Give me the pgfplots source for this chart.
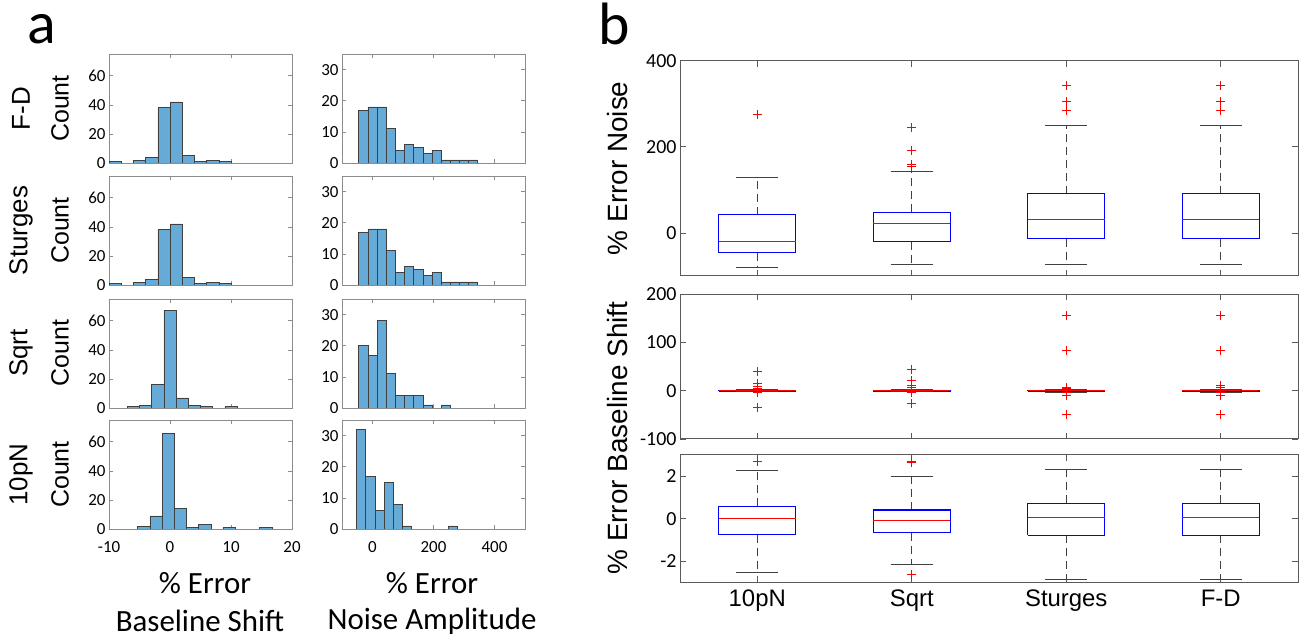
\documentclass[border=0pt]{standalone}
\usepackage{fontspec}
\setmainfont{Carlito}
\newfontfamily\arial{Liberation Sans}
\usepackage{pgfplots}
\pgfplotsset{compat=1.18}
\definecolor{histblue}{HTML}{66AAD7}
\definecolor{framea}{HTML}{8C8C8C}
\definecolor{frameb}{HTML}{5A5A5A}
\definecolor{whiskc}{HTML}{404040}
\definecolor{boxc}{HTML}{0000FF}
\definecolor{medc}{HTML}{FF0000}

\pgfplotsset{
  hist/.style={scale only axis, width=183bp, height=109bp, anchor=north west,
    axis line style={draw=framea, line width=0.8bp},
    tick style={draw=framea, line width=0.6bp}, major tick length=4bp,
    tick align=inside, xtick pos=both, ytick pos=both, ymin=0,
    ticklabel style={font=\fontsize{17}{17}\selectfont},
    xticklabel style={yshift=-9bp}},
  bs/.style={xmin=-10, xmax=20, ymax=75, xtick={-10,0,10,20}, ytick={0,20,40,60}, yticklabels={0,20,40,60}},
  na/.style={xmin=-100, xmax=500, ymax=35, xtick={0,200,400}, ytick={0,10,20,30}, yticklabels={0,10,20,30}},
  nox/.style={xticklabels={}},
  hbar/.style={ybar, fill=histblue, draw=black!75, line width=0.6bp},
  bx/.style={scale only axis, width=618bp, anchor=north west, clip=false,
    xmin=0.5, xmax=4.5, xtick={1,2,3,4}, xticklabels={},
    axis line style={draw=frameb, line width=1bp},
    tick style={draw=frameb, line width=0.8bp}, major tick length=6bp,
    tick align=inside, xtick pos=both, ytick pos=both,
    ticklabel style={font=\fontsize{20}{20}\selectfont}},
  whisk/.style={color=whiskc, draw=whiskc, dash pattern=on 8bp off 5bp, line width=0.9bp},
  boxl/.style={color=boxc, draw=boxc, line width=1.2bp},
  medl/.style={color=medc, draw=medc, line width=1.2bp},
  capl/.style={color=whiskc, draw=whiskc, line width=1bp},
  outl/.style={color=medc, draw=medc, only marks, mark=+, mark size=4.5bp, mark options={color=medc, draw=medc, line width=0.9bp}},
}
% one box: left, centre, right, lower whisker, lower quartile, median, upper quartile, upper whisker
\newcommand{\bxp}[8]{%
  \addplot[whisk] coordinates {(#2,#7)(#2,#8)};
  \addplot[whisk] coordinates {(#2,#5)(#2,#4)};
  \addplot[boxl] coordinates {(#1,#5)(#3,#5)(#3,#7)(#1,#7)(#1,#5)};
  \addplot[medl] coordinates {(#1,#6)(#3,#6)};
}
% whisker cap: left, right, value
\newcommand{\bcap}[3]{\addplot[capl] coordinates {(#1,#3)(#2,#3)};}

\begin{document}
\begin{tikzpicture}
\useasboundingbox (0,0) rectangle (1299bp,641bp);

% ---------- panel a: histograms ----------
% row 1: F-D
\begin{axis}[hist, bs, nox, at={(109bp,587bp)}]
\addplot[hbar, bar width=2] coordinates {(-9,1)(-5,2)(-3,4)(-1,38)(1,42)(3,5)(5,1)(7,2)(9,1)};
\end{axis}
\begin{axis}[hist, na, nox, at={(342bp,587bp)}]
\addplot[hbar, bar width=30] coordinates {(-30,17)(0,18)(30,18)(60,11)(90,4)(120,6)(150,5)(180,3)(210,4)(240,1)(270,1)(300,1)(330,1)};
\end{axis}
% row 2: Sturges
\begin{axis}[hist, bs, nox, at={(109bp,465bp)}]
\addplot[hbar, bar width=2] coordinates {(-9,1)(-5,2)(-3,4)(-1,38)(1,42)(3,5)(5,1)(7,2)(9,1)};
\end{axis}
\begin{axis}[hist, na, nox, at={(342bp,465bp)}]
\addplot[hbar, bar width=30] coordinates {(-30,17)(0,18)(30,18)(60,11)(90,4)(120,6)(150,5)(180,3)(210,4)(240,1)(270,1)(300,1)(330,1)};
\end{axis}
% row 3: Sqrt
\begin{axis}[hist, bs, nox, at={(109bp,342bp)}]
\addplot[hbar, bar width=2] coordinates {(-6,1)(-4,2)(-2,16)(0,67)(2,7)(4,2)(6,1)(10,1)};
\end{axis}
\begin{axis}[hist, na, nox, at={(342bp,342bp)}]
\addplot[hbar, bar width=30] coordinates {(-30,20)(0,17)(30,28)(60,11)(90,4)(120,4)(150,4)(180,1)(240,1)};
\end{axis}
% row 4: 10pN
\begin{axis}[hist, bs, at={(109bp,221bp)}, xticklabels={-10,0,10,20}]
\addplot[hbar, bar width=2] coordinates {(-4.3,2)(-2.3,9)(-0.3,66)(1.7,14)(3.7,1)(5.7,3)(9.7,1)(15.7,1)};
\end{axis}
\begin{axis}[hist, na, at={(342bp,221bp)}, xticklabels={0,200,400}]
\addplot[hbar, bar width=30] coordinates {(-37,32)(-7,17)(23,6)(53,15)(83,8)(113,1)(263,1)};
\end{axis}

% panel a labels
\node[anchor=base, font=\fontsize{60}{60}\selectfont] at (42bp,597bp) {a};
\foreach \yy/\nm in {532.5/F-D, 410.5/Sturges, 288/Sqrt, 166.5/10pN}{
  \node[rotate=90, font=\arial\fontsize{26}{26}\selectfont] at (21bp,\yy bp) {\nm};
  \node[rotate=90, font=\arial\fontsize{25}{25}\selectfont] at (60bp,\yy bp) {Count};
}
\node[font=\fontsize{31}{31}\selectfont] at (205bp,58bp) {\% Error};
\node[font=\fontsize{31}{31}\selectfont] at (200bp,20bp) {Baseline Shift};
\node[font=\fontsize{31}{31}\selectfont] at (432bp,58bp) {\% Error};
\node[font=\fontsize{31}{31}\selectfont] at (432bp,20bp) {Noise Amplitude};

% ---------- panel b: box plots ----------
% noise
\begin{axis}[bx, at={(680bp,580.3bp)}, height=215.3bp, ymin=-100, ymax=400,
  ytick={0,200,400}, yticklabels={0,200,400}]
\bxp{0.75}{1}{1.25}{-80}{-45.7}{-20}{41.9}{128}
\bxp{1.75}{2}{2.25}{-72.9}{-20}{21.7}{48}{142.6}
\bxp{2.75}{3}{3.25}{-72.9}{-13.2}{31.8}{90.7}{248.8}
\bxp{3.75}{4}{4.25}{-72.9}{-13.2}{31.8}{90.7}{248.8}
\bcap{0.865}{1.135}{-80}\bcap{0.865}{1.135}{128}
\bcap{1.865}{2.135}{-72.9}\bcap{1.865}{2.135}{142.6}
\bcap{2.865}{3.135}{-72.9}\bcap{2.865}{3.135}{248.8}
\bcap{3.865}{4.135}{-72.9}\bcap{3.865}{4.135}{248.8}
\addplot[outl] coordinates {(1,276)};
\addplot[outl] coordinates {(2,245)(2,191.5)(2,158)(2,155)};
\addplot[outl] coordinates {(3,343)(3,304.7)(3,284.5)};
\addplot[outl] coordinates {(4,343)(4,304.7)(4,284.5)};
\end{axis}

% baseline shift, full range
\begin{axis}[bx, at={(680bp,346.7bp)}, height=144.7bp, ymin=-100, ymax=200,
  ytick={-100,0,100,200}, yticklabels={-100,0,100,200}]
\bxp{0.75}{1}{1.25}{-2.56}{-0.75}{0}{0.58}{2.26}
\bxp{1.75}{2}{2.25}{-2.18}{-0.67}{-0.09}{0.41}{1.99}
\bxp{2.75}{3}{3.25}{-2.87}{-0.78}{0.05}{0.72}{2.32}
\bxp{3.75}{4}{4.25}{-2.87}{-0.78}{0.05}{0.72}{2.32}
\bcap{0.865}{1.135}{-2.56}\bcap{0.865}{1.135}{2.26}
\bcap{1.865}{2.135}{-2.18}\bcap{1.865}{2.135}{1.99}
\bcap{2.865}{3.135}{-2.87}\bcap{2.865}{3.135}{2.32}
\bcap{3.865}{4.135}{-2.87}\bcap{3.865}{4.135}{2.32}
\addplot[outl] coordinates {(1,39.4)(1,14.5)(1,9.7)(1,4.8)(1,2.68)(1,-3.5)(1,-35)};
\addplot[outl] coordinates {(2,44)(2,21.4)(2,11.7)(2,6.9)(2,2.7)(2,2.66)(2,-2.64)(2,-26)};
\addplot[outl] coordinates {(3,155.5)(3,83.6)(3,6.9)(3,3.8)(3,-3.5)(3,-9)(3,-49)};
\addplot[outl] coordinates {(4,155.5)(4,83.6)(4,11)(4,6.9)(4,-3.5)(4,-9)(4,-49)};
\end{axis}

% baseline shift, zoomed
\begin{axis}[bx, at={(680bp,186bp)}, height=127.3bp, ymin=-3, ymax=3,
  ytick={-2,0,2}, yticklabels={-2,0,2},
  xticklabels={10pN,Sqrt,Sturges,F-D},
  xticklabel style={font=\arial\fontsize{24}{24}\selectfont, yshift=-4bp}]
\bxp{0.75}{1}{1.25}{-2.56}{-0.75}{0}{0.58}{2.26}
\bxp{1.75}{2}{2.25}{-2.18}{-0.67}{-0.09}{0.41}{1.99}
\bxp{2.75}{3}{3.25}{-2.87}{-0.78}{0.05}{0.72}{2.32}
\bxp{3.75}{4}{4.25}{-2.87}{-0.78}{0.05}{0.72}{2.32}
\bcap{0.865}{1.135}{-2.56}\bcap{0.865}{1.135}{2.26}
\bcap{1.865}{2.135}{-2.18}\bcap{1.865}{2.135}{1.99}
\bcap{2.865}{3.135}{-2.87}\bcap{2.865}{3.135}{2.32}
\bcap{3.865}{4.135}{-2.87}\bcap{3.865}{4.135}{2.32}
\addplot[outl] coordinates {(1,2.68)};
\addplot[outl] coordinates {(2,2.7)(2,2.66)(2,-2.64)};
\end{axis}

% panel b labels
\node[anchor=base, font=\fontsize{60}{60}\selectfont] at (614bp,596bp) {b};
\node[rotate=90, font=\arial\fontsize{28}{28}\selectfont] at (618bp,472.7bp) {\% Error Noise};
\node[rotate=90, font=\arial\fontsize{28}{28}\selectfont] at (618bp,203bp) {\% Error Baseline Shift};
\end{tikzpicture}
\end{document}
